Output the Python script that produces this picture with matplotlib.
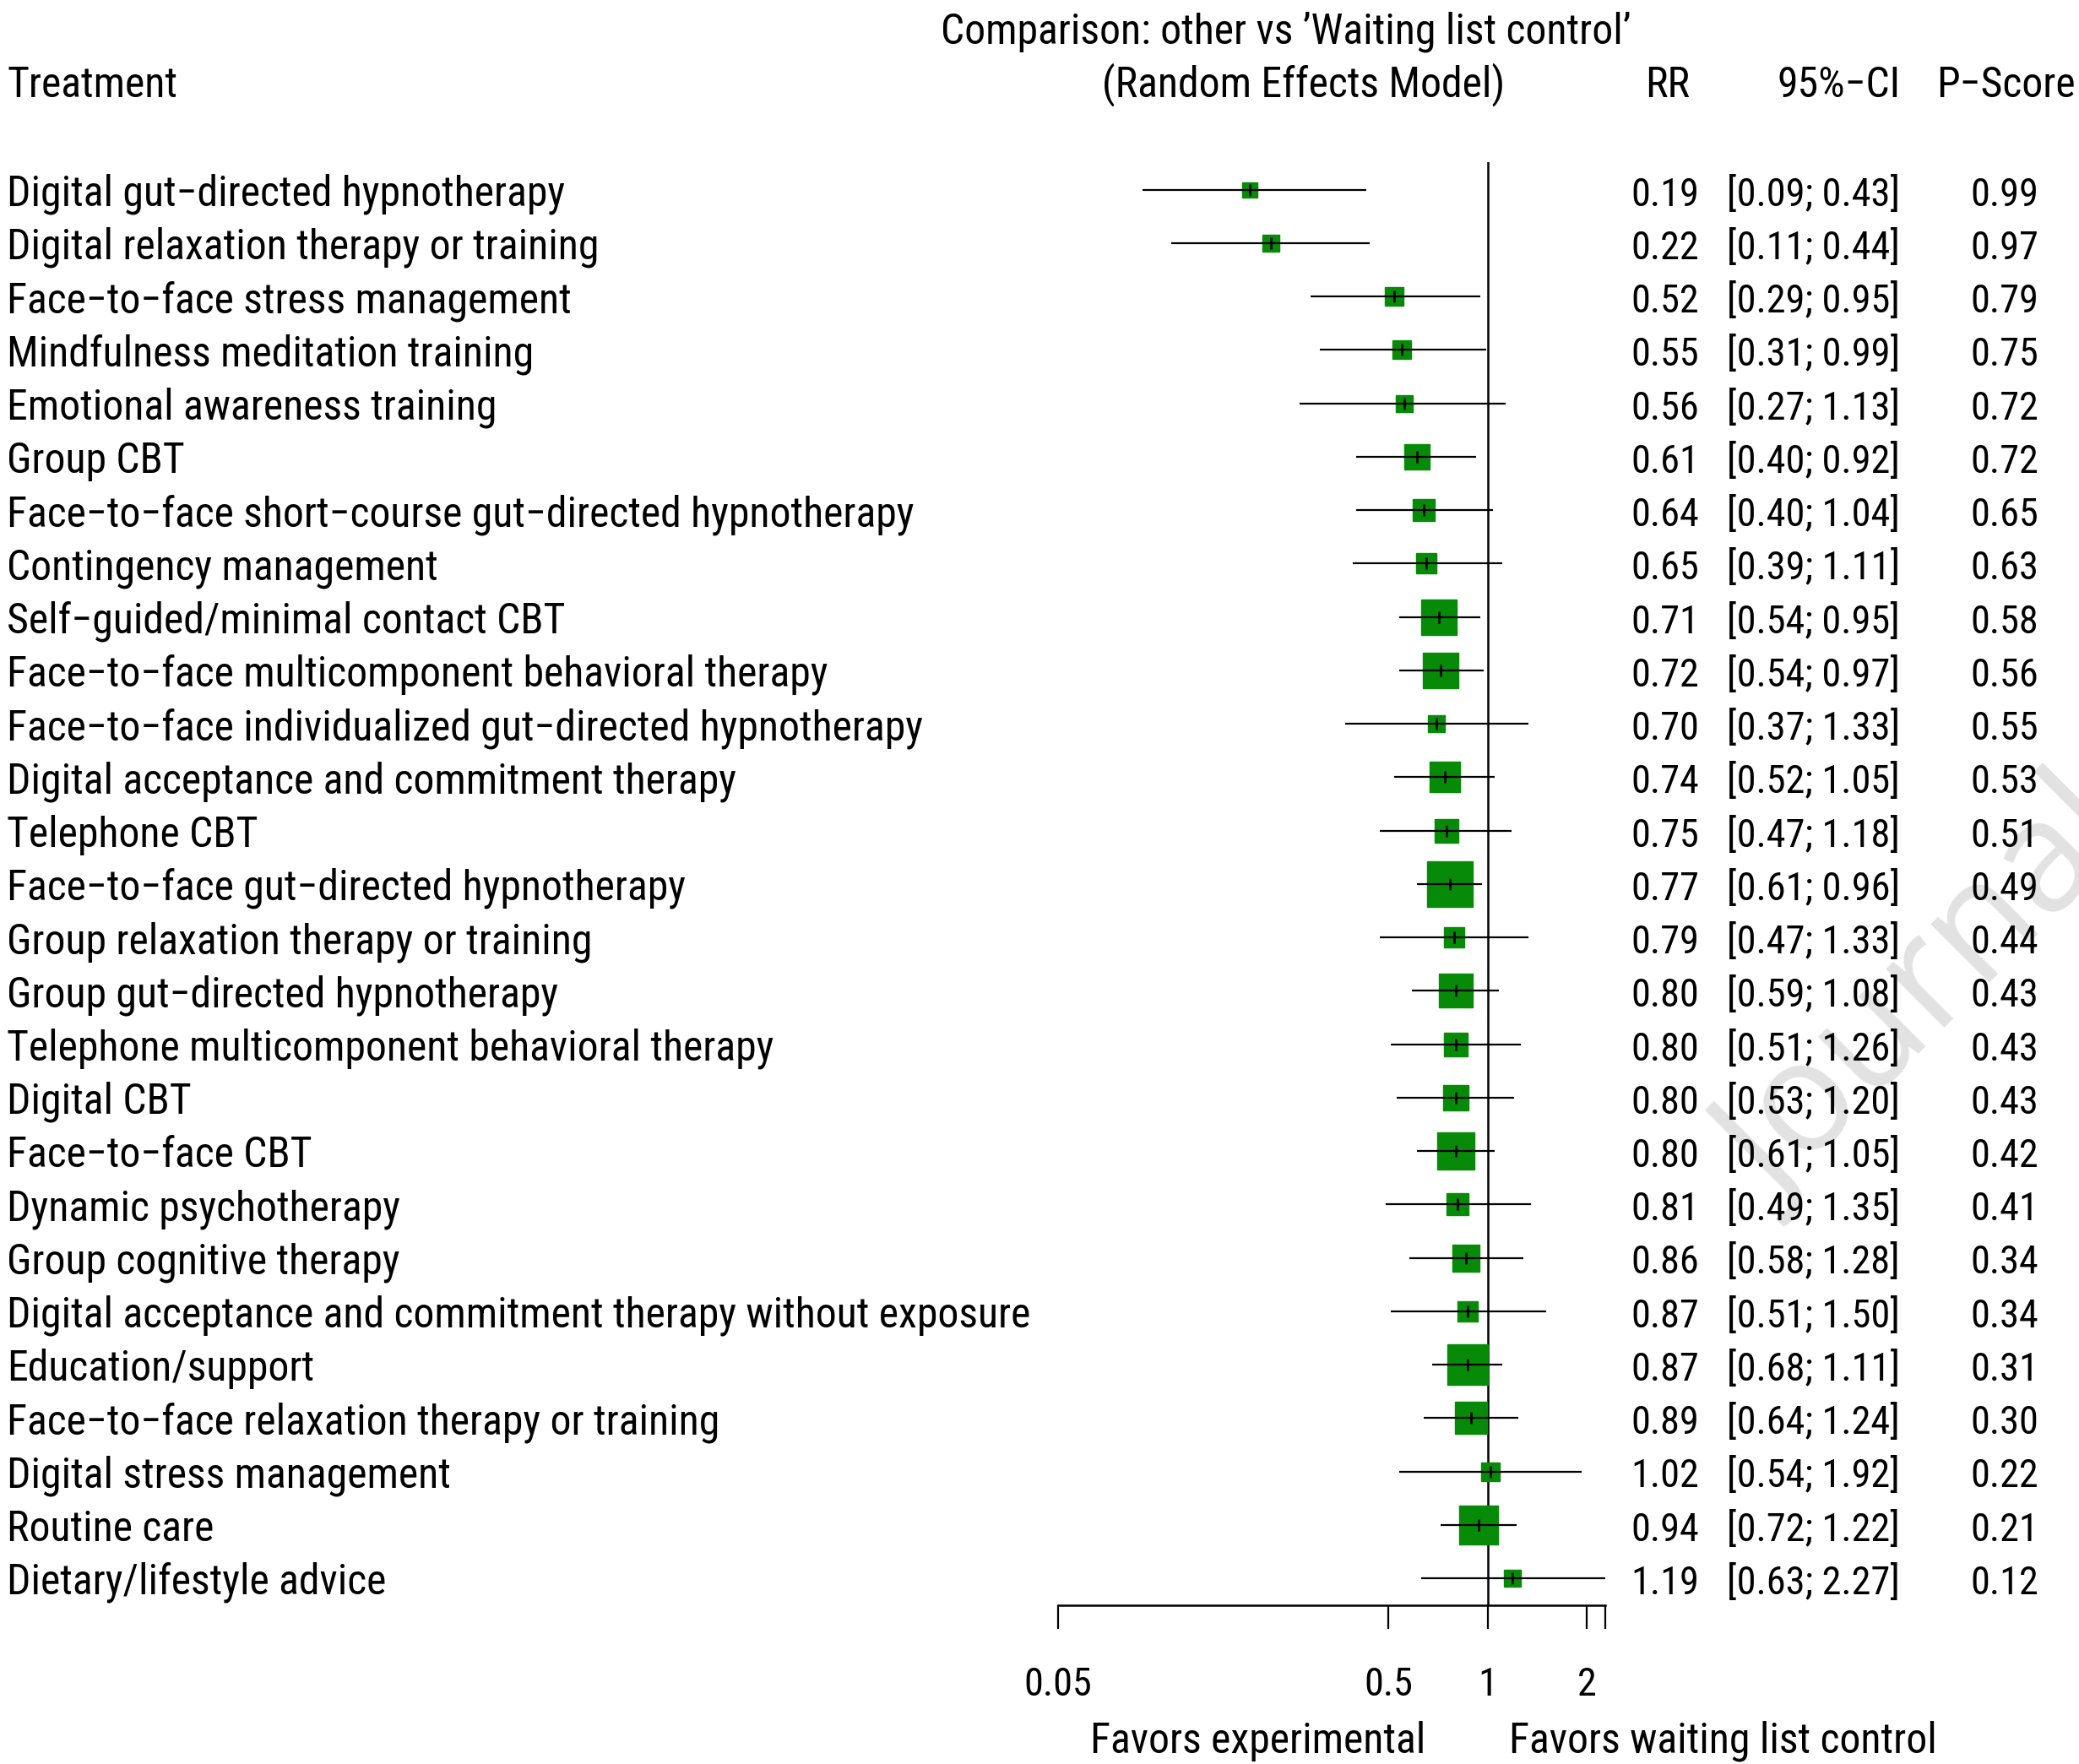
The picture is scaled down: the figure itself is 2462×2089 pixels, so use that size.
import matplotlib
matplotlib.use("Agg")
import matplotlib.pyplot as plt
from matplotlib import font_manager as fm
from matplotlib.transforms import blended_transform_factory

# ---- data ----
treatments = [
    "Digital gut−directed hypnotherapy",
    "Digital relaxation therapy or training",
    "Face−to−face stress management",
    "Mindfulness meditation training",
    "Emotional awareness training",
    "Group CBT",
    "Face−to−face short−course gut−directed hypnotherapy",
    "Contingency management",
    "Self−guided/minimal contact CBT",
    "Face−to−face multicomponent behavioral therapy",
    "Face−to−face individualized gut−directed hypnotherapy",
    "Digital acceptance and commitment therapy",
    "Telephone CBT",
    "Face−to−face gut−directed hypnotherapy",
    "Group relaxation therapy or training",
    "Group gut−directed hypnotherapy",
    "Telephone multicomponent behavioral therapy",
    "Digital CBT",
    "Face−to−face CBT",
    "Dynamic psychotherapy",
    "Group cognitive therapy",
    "Digital acceptance and commitment therapy without exposure",
    "Education/support",
    "Face−to−face relaxation therapy or training",
    "Digital stress management",
    "Routine care",
    "Dietary/lifestyle advice",
]
rr = [0.19, 0.22, 0.52, 0.55, 0.56, 0.61, 0.64, 0.65, 0.71, 0.72, 0.70, 0.74, 0.75, 0.77,
      0.79, 0.80, 0.80, 0.80, 0.80, 0.81, 0.86, 0.87, 0.87, 0.89, 1.02, 0.94, 1.19]
lower = [0.09, 0.11, 0.29, 0.31, 0.27, 0.40, 0.40, 0.39, 0.54, 0.54, 0.37, 0.52, 0.47, 0.61,
         0.47, 0.59, 0.51, 0.53, 0.61, 0.49, 0.58, 0.51, 0.68, 0.64, 0.54, 0.72, 0.63]
upper = [0.43, 0.44, 0.95, 0.99, 1.13, 0.92, 1.04, 1.11, 0.95, 0.97, 1.33, 1.05, 1.18, 0.96,
         1.33, 1.08, 1.26, 1.20, 1.05, 1.35, 1.28, 1.50, 1.11, 1.24, 1.92, 1.22, 2.27]
pscore = [0.99, 0.97, 0.79, 0.75, 0.72, 0.72, 0.65, 0.63, 0.58, 0.56, 0.55, 0.53, 0.51, 0.49,
          0.44, 0.43, 0.43, 0.43, 0.42, 0.41, 0.34, 0.34, 0.31, 0.30, 0.22, 0.21, 0.12]
# relative box size (weight) per treatment
weight = [0.275, 0.304, 0.351, 0.357, 0.304, 0.485, 0.421, 0.392, 0.673, 0.649, 0.322, 0.561,
          0.439, 0.842, 0.392, 0.632, 0.444, 0.480, 0.702, 0.398, 0.491, 0.380, 0.754, 0.591,
          0.333, 0.713, 0.322]
tick_vals = [0.05, 0.5, 1, 2, 2.27]
tick_labels = ["0.05", "0.5", "1", "2", ""]

# ---- font ----
available = {f.name for f in fm.fontManager.ttflist}
main_font = "DejaVu Sans"
for cand in ["Liberation Sans Narrow", "Roboto Condensed", "Open Sans Condensed"]:
    if cand in available:
        main_font = cand
        break
fam = [main_font, "DejaVu Sans"]
plt.rcParams["font.family"] = fam

W, H, DPI = 2462, 2089, 100
fig = plt.figure(figsize=(W / DPI, H / DPI), dpi=DPI)

# fit font size so the first label is as wide as in the reference (~658 px)
probe = fig.text(0, 0, treatments[0], fontsize=10)
w10 = probe.get_window_extent(renderer=fig.canvas.get_renderer()).width
probe.remove()
fs = 10 * 658 / w10
fn = fs * 0.93  # numbers a little narrower

row_px = (1869 - 224.6) / 26
n = len(treatments)
ax = fig.add_axes([1253 / W, 1 - 1901 / H, (1901 - 1253) / W, (1901 - 191.6) / H])
ax.set_xscale("log")
ax.set_xlim(0.05, 2.27)
ax.set_ylim(n + 0.506, 1 - 0.522)
rows = list(range(1, n + 1))

lw = 1.6
for y, est, w in zip(rows, rr, weight):
    side = w * row_px * 72 / DPI
    ax.plot(est, y, marker="s", ms=side, color="#078a07", mec="#078a07", zorder=2)
ax.hlines(rows, lower, upper, color="black", lw=lw, zorder=3)
ax.plot(rr, rows, ls="none", marker="|", ms=10.7, mew=1.9, color="black", zorder=4)
ax.axvline(1, color="black", lw=1.8, zorder=1)

for s in ["top", "right", "left"]:
    ax.spines[s].set_visible(False)
ax.spines["bottom"].set_linewidth(1.8)
ax.set_yticks([])
ax.set_xticks(tick_vals)
ax.set_xticklabels(tick_labels)
ax.minorticks_off()
ax.tick_params(axis="x", direction="out", length=20, width=1.6, pad=32, labelsize=fn)
ax.patch.set_visible(False)

# ---- text columns ----
tr = blended_transform_factory(fig.transFigure, ax.transData)
base = 0.30
for y, name, est, lo, hi, p in zip(rows, treatments, rr, lower, upper, pscore):
    ax.text(8 / W, y + base, name, transform=tr, ha="left", va="baseline", fontsize=fs)
    ax.text(1972 / W, y + base, f"{est:.2f}", transform=tr, ha="center", va="baseline", fontsize=fn)
    ax.text(2250 / W, y + base, f"[{lo:.2f}; {hi:.2f}]", transform=tr, ha="right", va="baseline", fontsize=fn)
    ax.text(2374 / W, y + base, f"{p:.2f}", transform=tr, ha="center", va="baseline", fontsize=fn)

hy = 1 - 114.7 / H
fig.text(8 / W, hy, "Treatment", ha="left", va="baseline", fontsize=fs)
fig.text(1544 / W, hy, "(Random Effects Model)", ha="center", va="baseline", fontsize=fs)
fig.text(1975 / W, hy, "RR", ha="center", va="baseline", fontsize=fs)
fig.text(2251 / W, hy, "95%−CI", ha="right", va="baseline", fontsize=fs)
fig.text(2375 / W, hy, "P−Score", ha="center", va="baseline", fontsize=fs)
fig.text(1523 / W, 1 - 51.8 / H, "Comparison: other vs ’Waiting list control’",
         ha="center", va="baseline", fontsize=fs)

fig.text(1688 / W, 1 - 2076 / H, "Favors experimental", ha="right", va="baseline", fontsize=fs)
fig.text(1787 / W, 1 - 2076 / H, "Favors waiting list control", ha="left", va="baseline", fontsize=fs)

# faint watermark at the right edge, behind everything
fig.text(2105 / W, 1 - 1430 / H, "Journal Pre-proof", rotation=45, rotation_mode="anchor",
         ha="left", va="baseline", fontsize=132, color="#e2e2e2", zorder=-10,
         family=["Open Sans", "DejaVu Sans"])

fig.savefig("out.png", dpi=DPI)
